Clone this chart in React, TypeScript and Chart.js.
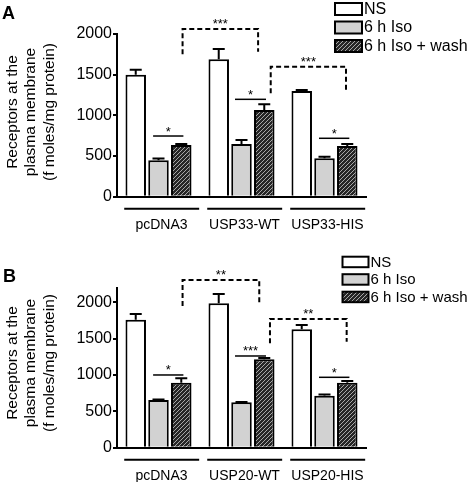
import React, { useEffect, useRef } from 'react';
import { Chart, registerables } from 'chart.js';

Chart.register(...registerables);

const FONT = '"Liberation Sans", Arial, Helvetica, sans-serif';

// ---------- data ----------
const seriesLabels = ['NS', '6 h Iso', '6 h Iso + wash'];
const yTitleLines = ['Receptors at the', 'plasma membrane', '(f moles/mg protein)'];
const yTicks = [0, 500, 1000, 1500, 2000];

// Panel A
const categoriesA = ['pcDNA3', 'USP33-WT', 'USP33-HIS'];
const nsA = [1500, 1689, 1300];
const isoA = [448, 648, 472];
const washA = [636, 1066, 623];
const nsErrA = [60, 127, 12];
const isoErrA = [22, 50, 18];
const washErrA = [12, 70, 25];
// bracket: [xStart(cat units), xEnd, yTop, yLeftEnd, yRightEnd, label]
const bracketsA: [number, number, number, number, number, string][] = [
  [0.29, 1.2, 2061, 1750, 1782, '***'],
  [1.352, 2.259, 1598, 1271, 1312, '***'],
];
// solid lines: [xStart, xEnd, y, label]
const linesA: [number, number, number, string][] = [
  [-0.065, 0.3, 746, '*'],
  [0.922, 1.295, 1197, '*'],
  [1.934, 2.299, 718, '*'],
];

// Panel B
const categoriesB = ['pcDNA3', 'USP20-WT', 'USP20-HIS'];
const nsB = [1760, 1986, 1629];
const isoB = [657, 625, 716];
const washB = [895, 1216, 895];
const nsErrB = [80, 128, 60];
const isoErrB = [6, 6, 15];
const washErrB = [60, 18, 23];
const bracketsB: [number, number, number, number, number, string][] = [
  [0.29, 1.214, 2307, 1949, 1995, '**'],
  [1.343, 2.267, 1770, 1436, 1458, '**'],
];
const linesB: [number, number, number, string][] = [
  [-0.065, 0.3, 1001, '*'],
  [0.922, 1.295, 1262, '***'],
  [1.934, 2.3, 969, '*'],
];

// ---------- helpers ----------
function makeHatch(): CanvasPattern | string {
  const c = document.createElement('canvas');
  c.width = 4;
  c.height = 4;
  const g = c.getContext('2d');
  if (!g) return '#444';
  g.fillStyle = '#262626';
  g.fillRect(0, 0, 4, 4);
  g.strokeStyle = '#a8a8a8';
  g.lineWidth = 1;
  g.beginPath();
  g.moveTo(0, 4);
  g.lineTo(4, 0);
  g.moveTo(-1, 1);
  g.lineTo(1, -1);
  g.moveTo(3, 5);
  g.lineTo(5, 3);
  g.stroke();
  const p = g.createPattern(c, 'repeat');
  return p || '#444';
}

const annotPlugin = {
  id: 'annot',
  afterDatasetsDraw(chart: any) {
    const ctx = chart.ctx;
    const ys = chart.scales.y;
    ctx.save();
    ctx.strokeStyle = '#000';
    ctx.lineWidth = 2;
    chart.data.datasets.forEach((ds: any, di: number) => {
      const meta = chart.getDatasetMeta(di);
      meta.data.forEach((bar: any, i: number) => {
        const v = ds.data[i];
        const e = ds.errors[i];
        const top = ys.getPixelForValue(v + e);
        ctx.beginPath();
        ctx.moveTo(bar.x, bar.y);
        ctx.lineTo(bar.x, top);
        ctx.moveTo(bar.x - 6, top);
        ctx.lineTo(bar.x + 6, top);
        ctx.stroke();
      });
    });
    ctx.restore();
  },
  afterDraw(chart: any, _args: any, o: any) {
    const ctx = chart.ctx;
    const xs = chart.scales.x;
    const ys = chart.scales.y;
    const area = chart.chartArea;
    const catW = xs.getPixelForValue(1) - xs.getPixelForValue(0);
    ctx.save();
    ctx.strokeStyle = '#000';
    ctx.fillStyle = '#000';
    ctx.lineWidth = 2;

    // group underlines
    chart.data.labels.forEach((_l: string, i: number) => {
      const cx = xs.getPixelForValue(i);
      ctx.beginPath();
      ctx.moveTo(cx - 0.413 * catW, area.bottom + 12);
      ctx.lineTo(cx + 0.49 * catW, area.bottom + 12);
      ctx.stroke();
    });

    // solid significance lines
    ctx.font = `13px ${FONT}`;
    ctx.textAlign = 'center';
    ctx.textBaseline = 'alphabetic';
    o.lines.forEach((l: any) => {
      const x1 = xs.getPixelForValue(l[0]);
      const x2 = xs.getPixelForValue(l[1]);
      const y = ys.getPixelForValue(l[2]);
      ctx.setLineDash([]);
      ctx.lineWidth = 1.5;
      ctx.beginPath();
      ctx.moveTo(x1, y);
      ctx.lineTo(x2, y);
      ctx.stroke();
      ctx.fillText(l[3], (x1 + x2) / 2, y - 0.5);
    });

    // dashed brackets
    o.brackets.forEach((b: any) => {
      const x1 = xs.getPixelForValue(b[0]);
      const x2 = xs.getPixelForValue(b[1]);
      const yt = ys.getPixelForValue(b[2]);
      const y1 = ys.getPixelForValue(b[3]);
      const y2 = ys.getPixelForValue(b[4]);
      ctx.setLineDash([5, 3]);
      ctx.lineWidth = 2;
      ctx.beginPath();
      ctx.moveTo(x1, y1);
      ctx.lineTo(x1, yt);
      ctx.lineTo(x2, yt);
      ctx.lineTo(x2, y2);
      ctx.stroke();
      ctx.setLineDash([]);
      ctx.fillText(b[5], (x1 + x2) / 2, yt - 1);
    });

    // legend
    const L = o.legend;
    ctx.font = `${L.font}px ${FONT}`;
    ctx.textAlign = 'left';
    ctx.textBaseline = 'middle';
    chart.data.datasets.forEach((ds: any, i: number) => {
      const y = L.y + i * L.step;
      ctx.fillStyle = ds.backgroundColor;
      ctx.fillRect(L.x, y, L.w, L.h);
      ctx.lineWidth = 2;
      ctx.strokeStyle = '#000';
      ctx.strokeRect(L.x, y, L.w, L.h);
      ctx.fillStyle = '#000';
      ctx.fillText(ds.label, L.x + L.w + 2, y + L.h / 2 + 0.5);
    });

    // y title
    ctx.font = `15.5px ${FONT}`;
    ctx.textAlign = 'center';
    ctx.textBaseline = 'middle';
    o.titleLines.forEach((t: string, i: number) => {
      ctx.save();
      ctx.translate(o.titleX[i], o.titleY);
      ctx.rotate(-Math.PI / 2);
      ctx.fillText(t, 0, 0);
      ctx.restore();
    });

    // panel letter
    ctx.font = `bold 18px ${FONT}`;
    ctx.textAlign = 'left';
    ctx.textBaseline = 'alphabetic';
    ctx.fillText(o.letter.text, o.letter.x, o.letter.y);

    ctx.restore();
  },
};

interface PanelCfg {
  categories: string[];
  ns: number[];
  iso: number[];
  wash: number[];
  nsErr: number[];
  isoErr: number[];
  washErr: number[];
  yMax: number;
  brackets: any[];
  lines: any[];
  padTop: number;
  xHeight: number;
  legend: any;
  titleY: number;
  letter: any;
}

function buildConfig(p: PanelCfg): any {
  const hatch = makeHatch();
  return {
    type: 'bar',
    data: {
      labels: p.categories,
      datasets: [
        { label: seriesLabels[0], data: p.ns, errors: p.nsErr, backgroundColor: '#ffffff' },
        { label: seriesLabels[1], data: p.iso, errors: p.isoErr, backgroundColor: '#d2d2d2' },
        { label: seriesLabels[2], data: p.wash, errors: p.washErr, backgroundColor: hatch },
      ].map((d) => ({
        ...d,
        borderColor: '#000',
        borderWidth: 2,
        categoryPercentage: 0.823,
        barPercentage: 0.9,
      })),
    },
    options: {
      animation: false,
      responsive: false,
      events: [],
      layout: { padding: { top: p.padTop, right: 103, bottom: 0, left: 0 } },
      plugins: {
        legend: { display: false },
        tooltip: { enabled: false },
        annot: {
          brackets: p.brackets,
          lines: p.lines,
          legend: p.legend,
          titleLines: yTitleLines,
          titleX: [12.5, 31, 49.5],
          titleY: p.titleY,
          letter: p.letter,
        },
      },
      scales: {
        x: {
          z: 1,
          grid: { display: false },
          border: { display: true, color: '#000', width: 2 },
          ticks: {
            color: '#000',
            font: { family: FONT, size: 14 },
            padding: 12,
            labelOffset: 3,
            maxRotation: 0,
            autoSkip: false,
          },
          afterFit: (s: any) => {
            s.height = p.xHeight;
          },
        },
        y: {
          z: 1,
          min: 0,
          max: p.yMax,
          grid: {
            drawOnChartArea: false,
            drawTicks: true,
            tickLength: 4,
            color: '#000',
            lineWidth: 2,
          },
          border: { display: true, color: '#000', width: 2 },
          ticks: {
            autoSkip: false,
            color: '#000',
            padding: 1,
            font: { family: FONT, size: 16 },
            callback: (v: any) => String(v),
          },
          afterBuildTicks: (s: any) => {
            s.ticks = yTicks.map((v) => ({ value: v }));
          },
          afterFit: (s: any) => {
            s.width = 117;
          },
        },
      },
    },
    plugins: [annotPlugin],
  };
}

const panelA: PanelCfg = {
  categories: categoriesA,
  ns: nsA,
  iso: isoA,
  wash: washA,
  nsErr: nsErrA,
  isoErr: isoErrA,
  washErr: washErrA,
  yMax: 2000,
  brackets: bracketsA,
  lines: linesA,
  padTop: 34,
  xHeight: 44.3,
  legend: { x: 335, y: 3, w: 27, h: 12, step: 18.5, font: 16 },
  titleY: 112,
  letter: { text: 'A', x: 2, y: 19 },
};

const panelB: PanelCfg = {
  categories: categoriesB,
  ns: nsB,
  iso: isoB,
  wash: washB,
  nsErr: nsErrB,
  isoErr: isoErrB,
  washErr: washErrB,
  yMax: 2200,
  brackets: bracketsB,
  lines: linesB,
  padTop: 46.75,
  xHeight: 34.2,
  legend: { x: 342.5, y: 15.7, w: 26, h: 10.5, step: 17.5, font: 15 },
  titleY: 122,
  letter: { text: 'B', x: 3, y: 41 },
};

function Panel({ cfg }: { cfg: PanelCfg }) {
  const ref = useRef<HTMLCanvasElement | null>(null);
  useEffect(() => {
    if (!ref.current) return;
    const chart = new Chart(ref.current, buildConfig(cfg));
    return () => chart.destroy();
  }, [cfg]);
  return <canvas ref={ref} width={469} height={241} style={{ display: 'block', width: 469, height: 241 }} />;
}

export default function App() {
  return (
    <div style={{ position: 'absolute', left: 0, top: 0, width: 469, height: 482, background: '#fff' }}>
      <Panel cfg={panelA} />
      <Panel cfg={panelB} />
    </div>
  );
}
